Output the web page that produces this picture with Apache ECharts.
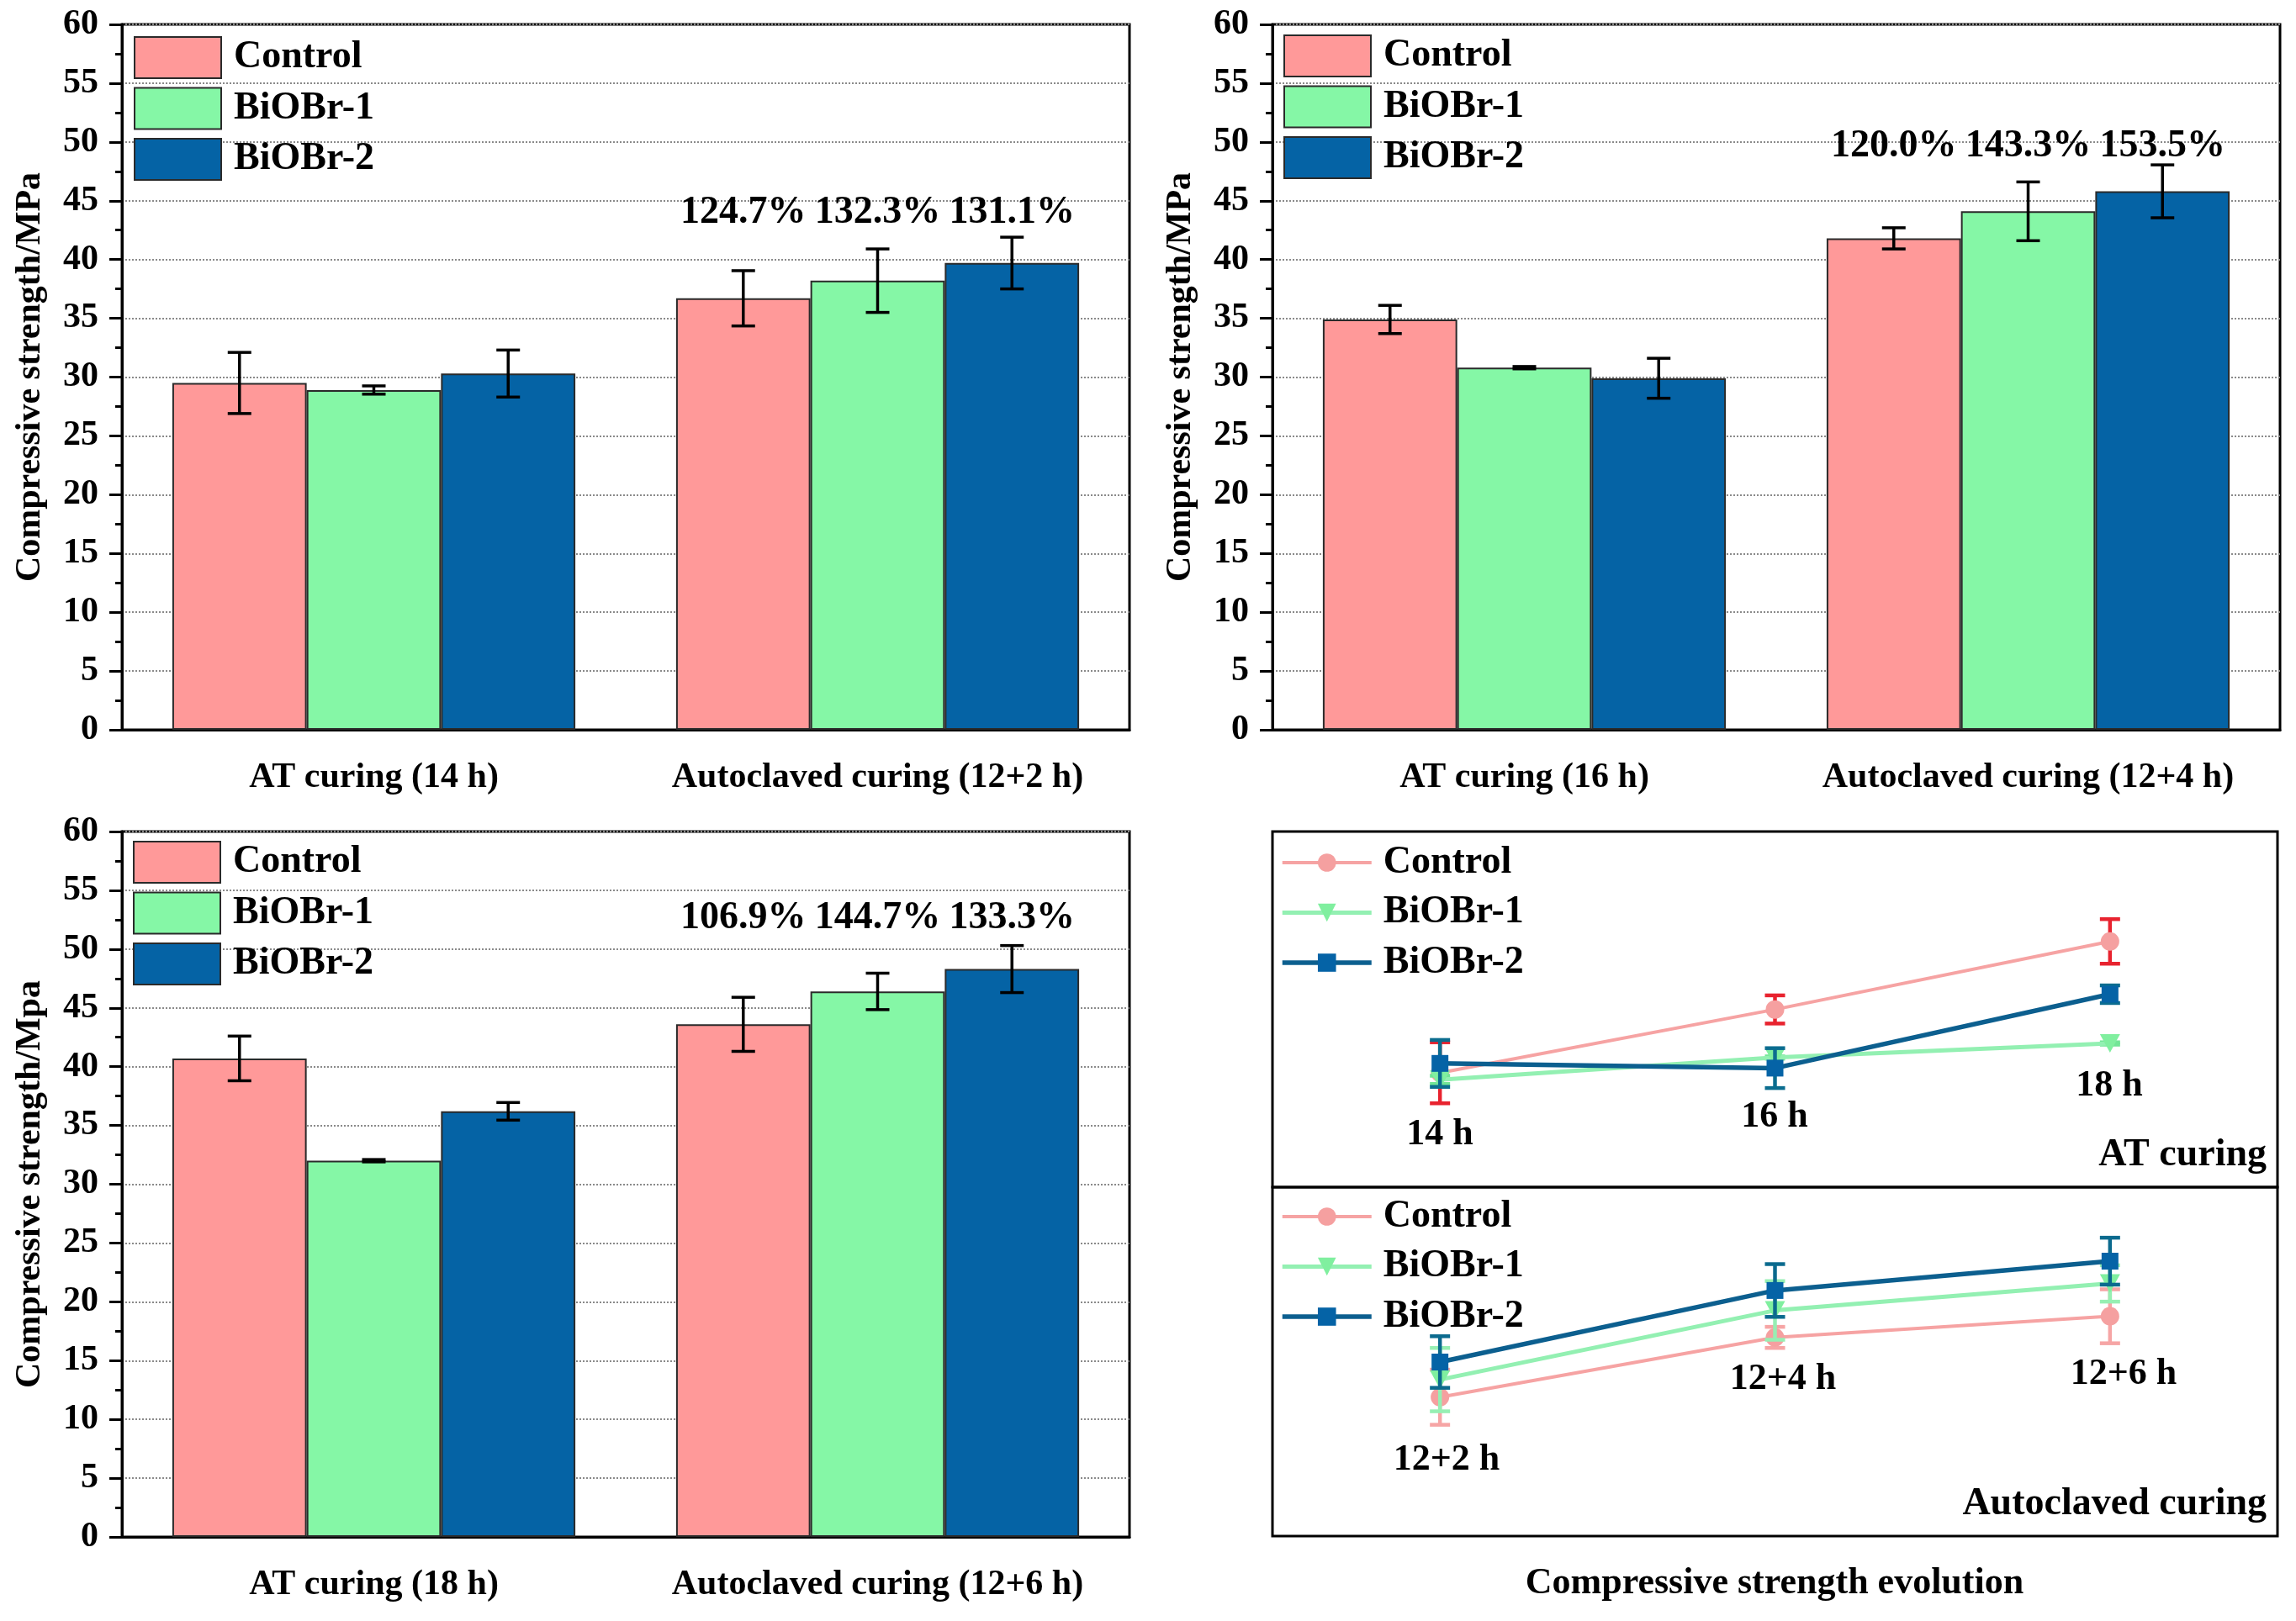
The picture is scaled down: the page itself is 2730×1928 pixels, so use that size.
<!DOCTYPE html>
<html><head><meta charset="utf-8">
<script src="https://cdn.jsdelivr.net/npm/echarts@6/dist/echarts.min.js"></script>
<style>html,body{margin:0;padding:0;background:#fff}#c{width:2730px;height:1928px}</style>
</head><body><div id="c"></div>
<script>
// ---------------- DATA ----------------
const seriesNames = ['Control', 'BiOBr-1', 'BiOBr-2'];
const catsA = ['AT curing (14 h)', 'Autoclaved curing (12+2 h)'];
const catsB = ['AT curing (16 h)', 'Autoclaved curing (12+4 h)'];
const catsC = ['AT curing (18 h)', 'Autoclaved curing (12+6 h)'];
// values: [AT curing, Autoclaved curing]
const ctrlA = [29.5, 36.7], ctrlA_err = [2.6, 2.35];
const bi1A  = [28.9, 38.2], bi1A_err  = [0.35, 2.7];
const bi2A  = [30.3, 39.7], bi2A_err  = [2.0, 2.2];
const pctA  = ['124.7%', '132.3%', '131.1%'];

const ctrlB = [34.9, 41.8], ctrlB_err = [1.2, 0.9];
const bi1B  = [30.8, 44.1], bi1B_err  = [0.1, 2.5];
const bi2B  = [29.9, 45.8], bi2B_err  = [1.7, 2.25];
const pctB  = ['120.0%', '143.3%', '153.5%'];

const ctrlC = [40.7, 43.6], ctrlC_err = [1.9, 2.3];
const bi1C  = [32.0, 46.4], bi1C_err  = [0.1, 1.55];
const bi2C  = [36.2, 48.3], bi2C_err  = [0.75, 2.0];
const pctC  = ['106.9%', '144.7%', '133.3%'];

const yTicks = [0, 60, 5]; // min, max, interval
const atTimes = ['14 h', '16 h', '18 h'];
const acTimes = ['12+2 h', '12+4 h', '12+6 h'];
const yNameMPa = 'Compressive strength/MPa';
const yNameMpa = 'Compressive strength/Mpa';
const evolutionTitle = 'Compressive strength evolution';
const atLabel = 'AT curing';
const acLabel = 'Autoclaved curing';

// ---------------- LAYOUT / STYLE ----------------
const FF = 'Liberation Serif';
const barColors = ['#ff9999', '#85f7a6', '#0563a5'];
const lineColors = ['#f6a3a3', '#93f0b2', '#0c5f8f'];
const markColors = ['#f5a0a0', '#80ef9f', '#0563a6'];
const G = [
  {left: 145, top: 29, width: 1198, height: 839},
  {left: 1513, top: 29, width: 1198, height: 839},
  {left: 145, top: 989, width: 1198, height: 839},
  {left: 1513, top: 989, width: 1195, height: 423},
  {left: 1513, top: 1412, width: 1195, height: 415}
];
const pctLevel = [44, 49.6, 52.6]; // label height (MPa) in each bar panel
const lineYRange = [[19.75, 50.07], [24.86, 54.61]];

function rows(v, e) { return v.map((x, i) => [i, +(x - e[i]).toFixed(3), +(x + e[i]).toFixed(3)]); }

function errItem(offset, color, lw, cap) {
  return function (params, api) {
    const xi = api.value(0);
    const p1 = api.coord([xi, api.value(1)]);
    const p2 = api.coord([xi, api.value(2)]);
    let x = p1[0];
    if (offset != null) {
      const bw = api.size([1, 0])[0];
      x += (offset - 1) * bw * 0.8 / 3;
    }
    const st = {stroke: color, lineWidth: lw};
    const h = cap / 2;
    return {type: 'group', children: [
      {type: 'line', shape: {x1: x, y1: p1[1], x2: x, y2: p2[1]}, style: st},
      {type: 'line', shape: {x1: x - h, y1: p1[1], x2: x + h, y2: p1[1]}, style: st},
      {type: 'line', shape: {x1: x - h, y1: p2[1], x2: x + h, y2: p2[1]}, style: st}
    ]};
  };
}

const grids = G.map(g => Object.assign({show: true, borderColor: '#000', borderWidth: 3, backgroundColor: 'transparent'}, g));

const xAxes = [], yAxes = [], series = [], legends = [];
const panels = [
  {cats: catsA, vals: [ctrlA, bi1A, bi2A], errs: [ctrlA_err, bi1A_err, bi2A_err], pct: pctA, yname: yNameMPa, legendTop: 38, legendLeft: 154},
  {cats: catsB, vals: [ctrlB, bi1B, bi2B], errs: [ctrlB_err, bi1B_err, bi2B_err], pct: pctB, yname: yNameMPa, legendTop: 36, legendLeft: 1521},
  {cats: catsC, vals: [ctrlC, bi1C, bi2C], errs: [ctrlC_err, bi1C_err, bi2C_err], pct: pctC, yname: yNameMpa, legendTop: 995, legendLeft: 153}
];

panels.forEach((P, g) => {
  xAxes.push({
    type: 'category', gridIndex: g, data: P.cats, position: 'bottom',
    axisLine: {lineStyle: {color: '#000', width: 3}},
    axisTick: {length: 9, lineStyle: {color: '#000', width: 3}},
    axisLabel: {interval: 0, fontFamily: FF, fontWeight: 'bold', fontSize: 42, color: '#000', margin: 36},
    splitLine: {show: false}
  });
  xAxes.push({
    type: 'category', gridIndex: g, data: P.cats, position: 'bottom',
    axisLine: {show: false},
    axisTick: {alignWithLabel: true, interval: 0, length: 15, lineStyle: {color: '#000', width: 3}},
    axisLabel: {show: false}, splitLine: {show: false}
  });
  yAxes.push({
    type: 'value', gridIndex: g, min: yTicks[0], max: yTicks[1], interval: yTicks[2],
    name: P.yname, nameLocation: 'middle', nameGap: 88, nameRotate: 90,
    nameTextStyle: {fontFamily: FF, fontWeight: 'bold', fontSize: 42, color: '#000'},
    axisLine: {show: true, lineStyle: {color: '#000', width: 3}},
    axisTick: {show: true, length: 15, lineStyle: {color: '#000', width: 3}},
    minorTick: {show: true, splitNumber: 2, length: 8, lineStyle: {color: '#000', width: 3}},
    axisLabel: {fontFamily: FF, fontWeight: 'bold', fontSize: 42, color: '#000', margin: 28},
    splitLine: {show: true, lineStyle: {type: 'dotted', color: '#8a8a8a', width: 2}}
  });
  const gg = G[g];
  const lblY = gg.top + gg.height * (yTicks[1] - pctLevel[g]) / (yTicks[1] - yTicks[0]);
  seriesNames.forEach((nm, k) => {
    series.push({
      type: 'bar', name: nm, xAxisIndex: 2 * g, yAxisIndex: g, data: P.vals[k],
      barGap: '0%', barCategoryGap: '20%',
      itemStyle: {color: barColors[k], borderColor: '#2a2a2a', borderWidth: 2},
      label: {show: true, position: 'top', formatter: p => (p.dataIndex === 1 ? P.pct[k] : ''),
        fontFamily: FF, fontWeight: 'bold', fontSize: 46, color: '#000'},
      labelLayout: p => (p.dataIndex === 1 ? {x: p.rect.x + p.rect.width / 2, y: lblY, align: 'center', verticalAlign: 'middle'} : {}),
      z: 2
    });
  });
  seriesNames.forEach((nm, k) => {
    series.push({
      type: 'custom', xAxisIndex: 2 * g, yAxisIndex: g,
      data: rows(P.vals[k], P.errs[k]), encode: {x: 0, y: [1, 2]},
      renderItem: errItem(k, '#000', 3.5, 28), z: 5, silent: true
    });
  });
  legends.push({
    data: seriesNames, orient: 'vertical', left: P.legendLeft, top: P.legendTop,
    icon: 'rect', itemWidth: 103, itemHeight: 49, itemGap: 9.5, selectedMode: false,
    textStyle: {fontFamily: FF, fontWeight: 'bold', fontSize: 46, color: '#000', lineHeight: 49, padding: [0, 0, 0, 10]}
  });
});

// ---- line panels (compressive strength evolution) ----
const lineSets = [
  {times: atTimes, vals: [[ctrlA[0], ctrlB[0], ctrlC[0]], [bi1A[0], bi1B[0], bi1C[0]], [bi2A[0], bi2B[0], bi2C[0]]],
   errs: [[ctrlA_err[0], ctrlB_err[0], ctrlC_err[0]], [bi1A_err[0], bi1B_err[0], bi1C_err[0]], [bi2A_err[0], bi2B_err[0], bi2C_err[0]]],
   errColors: ['#e8232f', '#72e596', '#0b6d8f'], legendTop: 998},
  {times: acTimes, vals: [[ctrlA[1], ctrlB[1], ctrlC[1]], [bi1A[1], bi1B[1], bi1C[1]], [bi2A[1], bi2B[1], bi2C[1]]],
   errs: [[ctrlA_err[1], ctrlB_err[1], ctrlC_err[1]], [bi1A_err[1], bi1B_err[1], bi1C_err[1]], [bi2A_err[1], bi2B_err[1], bi2C_err[1]]],
   errColors: ['#f6a5a5', '#97efb3', '#0b6a8e'], legendTop: 1419}
];
const symbols = ['circle', 'path://M0,0L10,0L5,9Z', 'rect'];
const symbolSizes = [22, [24, 22], 20];
const lineWidths = [4, 5, 5.5];
lineSets.forEach((L, j) => {
  const g = 3 + j;
  xAxes.push({type: 'category', gridIndex: g, data: L.times, show: false});
  yAxes.push({type: 'value', gridIndex: g, min: lineYRange[j][0], max: lineYRange[j][1], show: false, splitLine: {show: false}});
  const xi = xAxes.length - 1, yi = yAxes.length - 1;
  seriesNames.forEach((nm, k) => {
    series.push({
      type: 'custom', xAxisIndex: xi, yAxisIndex: yi,
      data: rows(L.vals[k], L.errs[k]), encode: {x: 0, y: [1, 2]},
      renderItem: errItem(null, L.errColors[k], 4.5, 24), z: 3 + k, silent: true
    });
    series.push({
      type: 'line', name: nm + ' (L)', xAxisIndex: xi, yAxisIndex: yi, data: L.vals[k],
      symbol: symbols[k], symbolSize: symbolSizes[k],
      lineStyle: {color: lineColors[k], width: lineWidths[k]},
      itemStyle: {color: markColors[k]}, z: 3 + k
    });
  });
  legends.push({
    data: seriesNames.map((n, k) => ({name: n + ' (L)', lineStyle: {width: lineWidths[k], color: lineColors[k]}})),
    formatter: n => n.replace(' (L)', ''),
    orient: 'vertical', left: 1517, top: L.legendTop,
    itemWidth: 106, itemHeight: 27, itemGap: 13.5, selectedMode: false,
    textStyle: {fontFamily: FF, fontWeight: 'bold', fontSize: 46, color: '#000', lineHeight: 45, padding: [0, 0, 0, 9]}
  });
});

// annotation texts
const timeLabelPos = [[1712, 1350], [2110, 1329], [2508, 1292], [1720, 1737], [2120, 1641], [2525, 1635]];
const txt = (t, x, y, align, size) => ({type: 'text', x, y, z: 100,
  style: {text: t, fontFamily: FF, fontWeight: 'bold', fontSize: size, fill: '#000', align, verticalAlign: 'middle'}});
const graphics = [];
atTimes.concat(acTimes).forEach((t, i) => graphics.push(txt(t, timeLabelPos[i][0], timeLabelPos[i][1], 'center', 44)));
graphics.push(txt(atLabel, 2695, 1374, 'right', 46));
graphics.push(txt(acLabel, 2695, 1789, 'right', 46));
graphics.push(txt(evolutionTitle, 2110, 1884, 'center', 44));

const chart = echarts.init(document.getElementById('c'), null, {renderer: 'canvas'});
chart.setOption({
  backgroundColor: '#fff',
  animation: false,
  textStyle: {fontFamily: FF},
  grid: grids, xAxis: xAxes, yAxis: yAxes, legend: legends, series, graphic: graphics
});
</script></body></html>
